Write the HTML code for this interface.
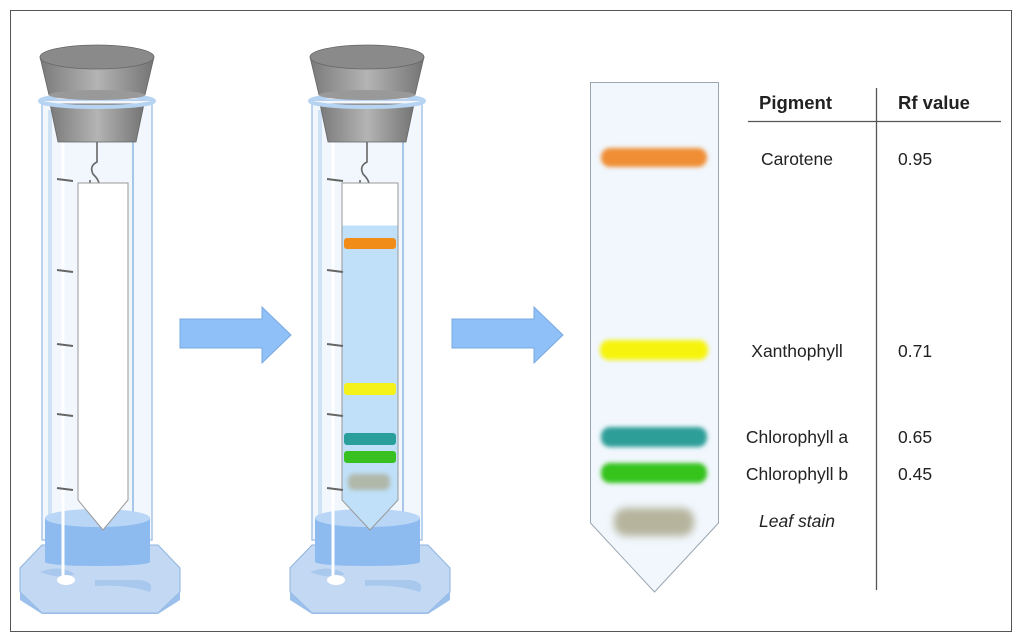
<!DOCTYPE html>
<html><head><meta charset="utf-8"><style>
html,body{margin:0;padding:0;background:#fff}
svg{display:block}
text{font-family:"Liberation Sans",Arial,sans-serif;fill:#222}
</style></head><body>
<svg width="1022" height="642" viewBox="0 0 1022 642" xmlns="http://www.w3.org/2000/svg">
<defs>
<linearGradient id="stop" x1="0" x2="1"><stop offset="0" stop-color="#7a7a7a"/><stop offset="0.5" stop-color="#b4b4b4"/><stop offset="1" stop-color="#747474"/></linearGradient>
<filter id="bl" x="-20%" y="-50%" width="140%" height="200%"><feGaussianBlur stdDeviation="2"/></filter>
<filter id="bl2" x="-30%" y="-80%" width="160%" height="260%"><feGaussianBlur stdDeviation="4"/></filter>
<g id="cyl">
  <polygon points="42,545 158,545 180,568 180,592 158,613 42,613 20,592 20,568" fill="#c3d8f2" stroke="#8fb3e0"/>
  <polygon points="20,592 42,613 158,613 180,592 180,600 158,614 42,614 20,600" fill="#9cc0ec"/>
  <path d="M40 572 q20 -8 35 2 q-15 6 -35 -2z M95 580 h45 q15 2 10 12 q-25 -8 -55 -6z" fill="#a9c8ee"/>
  <rect x="42" y="100" width="110" height="440" fill="#e8f2fc" fill-opacity="0.6" stroke="#a8c6e8" stroke-width="1.5"/>
  <line x1="50" y1="110" x2="50" y2="535" stroke="#cfe1f5" stroke-width="4"/>
  <line x1="133" y1="130" x2="133" y2="518" stroke="#a8c6e8" stroke-width="2"/>
  <rect x="45" y="518" width="105" height="44" fill="#8dbbf0"/>
  <ellipse cx="97.5" cy="562" rx="52.5" ry="4" fill="#8dbbf0"/>
  <ellipse cx="97.5" cy="518" rx="52.5" ry="9" fill="#b9d6f6"/>
  <line x1="63" y1="130" x2="63" y2="578" stroke="#fff" stroke-width="3"/>
  <ellipse cx="66" cy="580" rx="9" ry="5" fill="#fff"/>
  <polygon points="50,104 144,104 136,142 58,142" fill="url(#stop)" stroke="#666" stroke-width="0.8"/>
  <ellipse cx="97" cy="101" rx="57" ry="6" fill="none" stroke="#b6d4f2" stroke-width="4"/>
  <polygon points="40,57 154,57 145,95 49,95" fill="url(#stop)" stroke="#666" stroke-width="0.8"/>
  <ellipse cx="97" cy="95" rx="48" ry="5" fill="#999"/>
  <ellipse cx="97" cy="57" rx="57" ry="12" fill="#8a8a8a" stroke="#666" stroke-width="0.8"/>
  <path d="M97 142 v20 q-8 4 -4 12 q6 6 6 10 q-2 8 -10 10" fill="none" stroke="#666" stroke-width="1.6"/>
  <line x1="90" y1="180" x2="90" y2="186" stroke="#666" stroke-width="1.6"/>
</g>
</defs>
<rect x="10.5" y="10.5" width="1001" height="621" fill="#fff" stroke="#555"/>

<use href="#cyl"/>
<polygon points="78,183 128,183 128,500 103,530 78,500" fill="#fff" stroke="#999"/>
<g stroke="#666" stroke-width="2">
<path d="M57 179 l16 2 M57 270 l16 2 M57 344 l16 2 M57 414 l16 2 M57 488 l16 2"/>
</g>

<g transform="translate(270,0)">
<use href="#cyl"/>
<polygon points="72,183 128,183 128,500 100,530 72,500" fill="#bfe0f8" stroke="#999"/>
<rect x="72.5" y="183.5" width="55" height="42" fill="#fff"/>
<rect x="74" y="238" width="52" height="11" rx="3" fill="#f28c18"/>
<rect x="74" y="383" width="52" height="12" rx="3" fill="#f4f21a"/>
<rect x="74" y="433" width="52" height="12" rx="3" fill="#2a9e98"/>
<rect x="74" y="451" width="52" height="12" rx="3" fill="#38c020"/>
<rect x="78" y="474" width="42" height="16" rx="6" fill="#b0b8aa" filter="url(#bl)"/>
<g stroke="#666" stroke-width="2">
<path d="M57 179 l16 2 M57 270 l16 2 M57 344 l16 2 M57 414 l16 2 M57 488 l16 2"/>
</g>
</g>

<polygon points="180,319 262,319 262,307 291,335 262,363 262,348 180,348" fill="#8fc0f7" stroke="#7aa8e0"/>
<polygon points="452,319 534,319 534,307 563,335 534,363 534,348 452,348" fill="#8fc0f7" stroke="#7aa8e0"/>

<polygon points="590.5,82.5 718.5,82.5 718.5,523 654.5,592 590.5,523" fill="#f1f7fd" stroke="#9aa6b2"/>
<rect x="601" y="148" width="106" height="19" rx="9" fill="#f08e36" filter="url(#bl)"/>
<rect x="600" y="340" width="108" height="20" rx="9" fill="#f6f40c" filter="url(#bl)"/>
<rect x="601" y="427" width="106" height="20" rx="9" fill="#2e9e98" filter="url(#bl)"/>
<rect x="601" y="463" width="106" height="20" rx="9" fill="#35c31d" filter="url(#bl)"/>
<rect x="614" y="508" width="80" height="28" rx="12" fill="#b6b49c" filter="url(#bl2)"/>

<line x1="748" y1="121.5" x2="1001" y2="121.5" stroke="#555" stroke-width="1.3"/>
<line x1="876.5" y1="88" x2="876.5" y2="590" stroke="#555" stroke-width="1.3"/>
<text x="759" y="109" font-size="18.5" font-weight="bold">Pigment</text>
<text x="898" y="109" font-size="18.5" font-weight="bold">Rf value</text>
<g font-size="17.5">
<text x="797" y="165" text-anchor="middle">Carotene</text>
<text x="797" y="357" text-anchor="middle">Xanthophyll</text>
<text x="797" y="443" text-anchor="middle">Chlorophyll a</text>
<text x="797" y="480" text-anchor="middle">Chlorophyll b</text>
<text x="797" y="527" text-anchor="middle" font-style="italic">Leaf stain</text>
<text x="898" y="165">0.95</text>
<text x="898" y="357">0.71</text>
<text x="898" y="443">0.65</text>
<text x="898" y="480">0.45</text>
</g>
</svg>
</body></html>
